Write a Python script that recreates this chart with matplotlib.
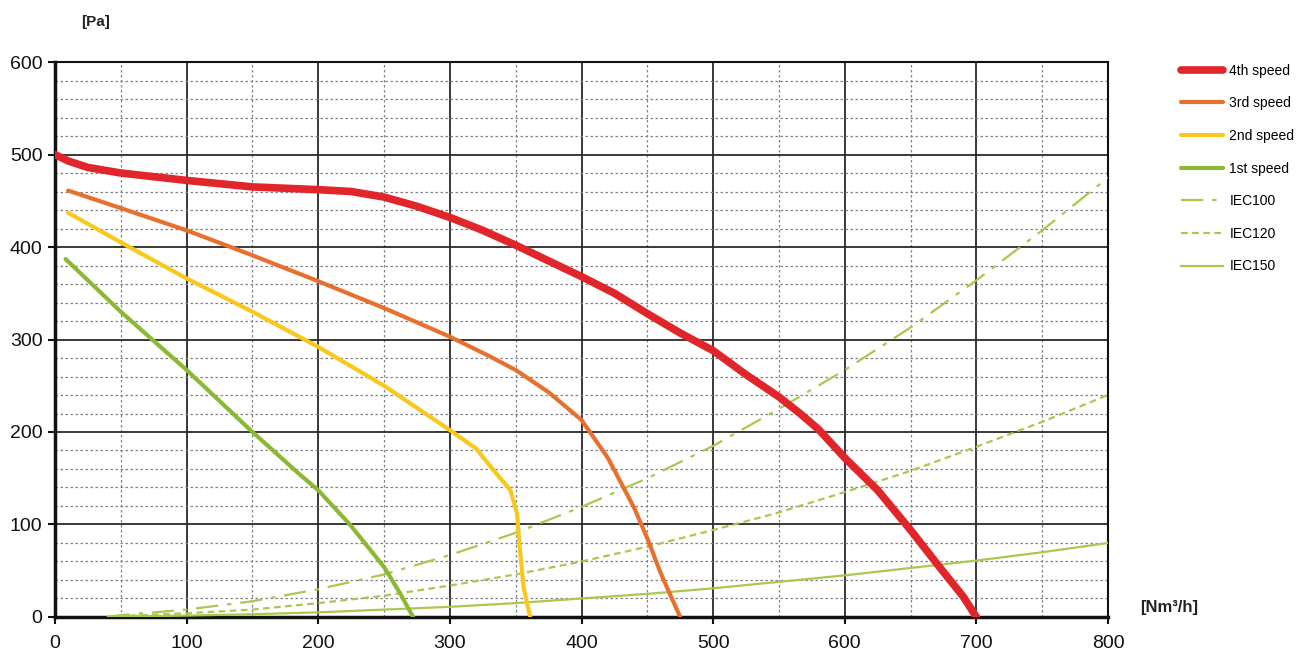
import matplotlib
matplotlib.use('agg')
import matplotlib.pyplot as plt
from matplotlib.ticker import MultipleLocator

plt.rcParams['font.family'] = ['Liberation Sans', 'DejaVu Sans']

# fan curves, flow [Nm3/h] vs pressure [Pa]
speed4_x = [0, 10, 25, 50, 100, 150, 200, 225, 250, 275, 300, 325, 350, 375, 400, 425, 450,
            475, 500, 525, 550, 566, 580, 600, 625, 650, 672, 690, 700]
speed4_y = [500, 493, 486, 480, 472, 465, 462, 460, 454, 444, 432, 418, 402, 385, 368, 350, 328,
            307, 288, 262, 238, 220, 203, 172, 137, 94, 54, 22, 0]

speed3_x = [10, 50, 100, 150, 200, 250, 300, 330, 350, 375, 400, 420, 440, 450, 460, 468, 475]
speed3_y = [461, 442, 418, 391, 363, 334, 303, 282, 267, 243, 213, 172, 118, 85, 48, 22, 0]

speed2_x = [10, 50, 100, 150, 200, 250, 300, 320, 333, 346, 351, 353, 356, 361]
speed2_y = [437, 405, 366, 330, 292, 250, 202, 182, 159, 137, 112, 76, 32, 0]

speed1_x = [8, 50, 100, 150, 186, 200, 224, 250, 262, 272]
speed1_y = [387, 330, 267, 200, 154, 137, 100, 54, 26, 0]

# system curves
iec_x = [40, 50, 100, 150, 200, 250, 300, 350, 400, 450, 500, 550, 600, 650, 700, 750, 800]
iec100_y = [0, 2, 8, 17, 30, 46, 67, 91, 119, 150, 185, 225, 267, 313, 364, 418, 475]
iec120_y = [0, 1, 4, 8, 15, 23, 34, 46, 60, 76, 94, 113, 135, 158, 184, 211, 240]
iec150_y = [0, 0.5, 1.5, 3, 5, 8, 11, 15, 20, 25, 31, 38, 45, 53, 61, 70, 80]

fig = plt.figure(figsize=(13.04, 6.57), dpi=100)
ax = fig.add_axes([0.0422, 0.0609, 0.8075, 0.8447])

iec_col = '#a9c84e'
ax.plot(iec_x, iec100_y, color=iec_col, lw=1.6, dashes=(10, 4, 2, 4), label='IEC100', zorder=3)
ax.plot(iec_x, iec120_y, color=iec_col, lw=1.6, dashes=(3, 2), label='IEC120', zorder=3)
ax.plot(iec_x, iec150_y, color=iec_col, lw=1.6, label='IEC150', zorder=3)

kw = dict(solid_joinstyle='round', solid_capstyle='round')
ax.plot(speed1_x, speed1_y, color='#8cb833', lw=3, label='1st speed', zorder=4, **kw)
ax.plot(speed2_x, speed2_y, color='#f8c81c', lw=3, label='2nd speed', zorder=4, **kw)
ax.plot(speed3_x, speed3_y, color='#e8702e', lw=3, label='3rd speed', zorder=4, **kw)
ax.plot(speed4_x, speed4_y, color='#e0262a', lw=5.5, label='4th speed', zorder=5, **kw)

ax.set_xlim(0, 800)
ax.set_ylim(0, 600)
ax.xaxis.set_major_locator(MultipleLocator(100))
ax.xaxis.set_minor_locator(MultipleLocator(50))
ax.yaxis.set_major_locator(MultipleLocator(100))
ax.yaxis.set_minor_locator(MultipleLocator(20))
ax.grid(which='major', color='#2a2a2a', lw=1.3, zorder=1)
ax.grid(which='minor', color='#80808a', lw=0.9, linestyle=(0, (2, 2)), zorder=1)
ax.set_axisbelow(True)

for s in ['left', 'bottom']:
    ax.spines[s].set_linewidth(2.5)
for s in ['top', 'right']:
    ax.spines[s].set_linewidth(1.5)
for s in ax.spines.values():
    s.set_color('#111111')

ax.tick_params(which='major', direction='out', length=5, width=1.5, labelsize=14, colors='#111111')
ax.tick_params(axis='x', pad=8)
ax.tick_params(axis='y', pad=4)
ax.tick_params(which='minor', length=0)

fig.text(0.073, 0.966, '[Pa]', fontsize=11, fontweight='bold', color='#222222', ha='center', va='center')
fig.text(0.874, 0.075, '[Nm³/h]', fontsize=12, fontweight='bold', color='#222222', ha='left', va='center')

handles, labels = ax.get_legend_handles_labels()
order = [6, 5, 4, 3, 0, 1, 2]
leg = fig.legend([handles[i] for i in order], [labels[i] for i in order],
                 loc='upper left', bbox_to_anchor=(0.896, 0.922), frameon=False,
                 fontsize=10, handlelength=3.0, handletextpad=0.5, labelspacing=1.34)

fig.savefig('out.png', dpi=100)
